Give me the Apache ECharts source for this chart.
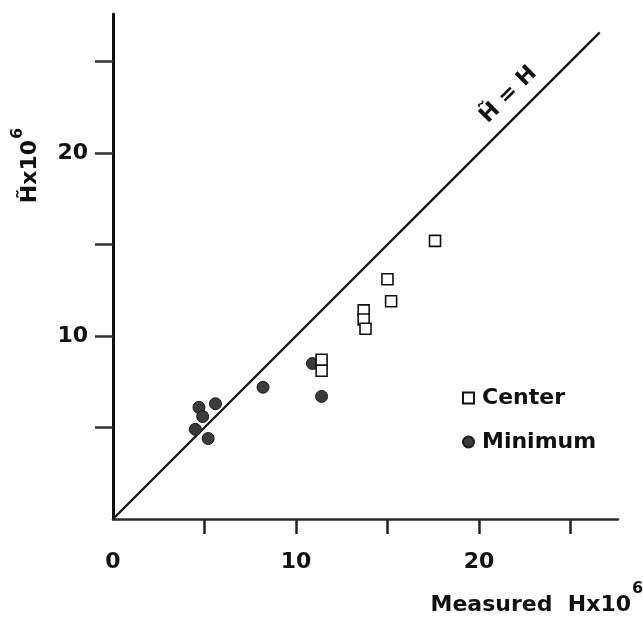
<!DOCTYPE html>
<html>
<head>
<meta charset="utf-8">
<script src="https://cdn.jsdelivr.net/npm/echarts@6/dist/echarts.min.js"></script>
<style>html,body{margin:0;padding:0;background:#fff;}#c{width:643px;height:617px;}</style>
</head>
<body>
<div id="c"></div>
<script>
// ---- data ----
const centerX = [17.6, 15.0, 15.2, 13.7, 13.7, 13.8, 11.4, 11.4];
const centerY = [15.2, 13.1, 11.9, 11.4, 10.9, 10.4, 8.7, 8.1];
const minimumX = [4.7, 4.9, 5.6, 4.5, 5.2, 8.2, 11.4, 10.9];
const minimumY = [6.1, 5.6, 6.3, 4.9, 4.4, 7.2, 6.7, 8.5];
const identityX = [0, 26.6];
const identityY = [0, 26.6];
const xTickValues = [5, 10, 15, 20, 25];
const yTickValues = [5, 10, 15, 20, 25];
const xLabelValues = [0, 10, 20];
const yLabelValues = [10, 20];
const seriesNames = ['Center', 'Minimum'];

const FONT = 'DejaVu Sans';
const zip = (a, b) => a.map((v, i) => [v, b[i]]);

const chart = echarts.init(document.getElementById('c'), null, {renderer: 'canvas'});
const labelStyle = {fontFamily: FONT, fontWeight: 'bold', fontSize: 22, color: '#111'};

const option = {
  backgroundColor: '#fff',
  animation: false,
  grid: {left: 113, top: 14, width: 505, height: 505},
  xAxis: {
    type: 'value', min: 0, max: 27.6, interval: 5,
    splitLine: {show: false},
    axisLine: {lineStyle: {color: '#2a2a2a', width: 2.5}},
    axisTick: {customValues: xTickValues, length: 15, lineStyle: {color: '#222', width: 2.5}},
    axisLabel: Object.assign({customValues: xLabelValues, margin: 32}, labelStyle)
  },
  yAxis: {
    type: 'value', min: 0, max: 27.6, interval: 5,
    splitLine: {show: false},
    axisLine: {lineStyle: {color: '#111', width: 3}},
    axisTick: {customValues: yTickValues, length: 18, lineStyle: {color: '#333', width: 2.5}},
    axisLabel: Object.assign({customValues: yLabelValues, margin: 25}, labelStyle)
  },
  legend: {
    data: seriesNames,
    orient: 'vertical', left: 457, top: 382,
    itemWidth: 11, itemHeight: 11, itemGap: 22,
    textStyle: {fontFamily: FONT, fontWeight: 'bold', fontSize: 22, color: '#111', padding: [0, 0, 0, 3]}
  },
  series: [
    {
      name: 'identity', type: 'line', data: zip(identityX, identityY),
      symbol: 'none', silent: true, z: 1,
      lineStyle: {color: '#1a1a1a', width: 2.4}
    },
    {
      name: 'Minimum', type: 'scatter', data: zip(minimumX, minimumY),
      symbol: 'circle', symbolSize: 12, z: 2,
      itemStyle: {color: '#3b3b3b', borderColor: '#1a1a1a', borderWidth: 1, opacity: 1}
    },
    {
      name: 'Center', type: 'scatter', data: zip(centerX, centerY),
      symbol: 'rect', symbolSize: 11, z: 3,
      itemStyle: {color: '#fff', borderColor: '#111', borderWidth: 1.6, opacity: 1}
    }
  ]
};
chart.setOption(option);

// annotation positions derived from the chart's own scale
const p = chart.convertToPixel({gridIndex: 0}, [22.4, 22.4]);
chart.setOption({
  graphic: [
    {
      type: 'group', x: 30, y: 164, rotation: Math.PI / 2,
      children: [
        {type: 'text', style: {text: 'H\u0303x10', x: 24, y: 0, align: 'right', verticalAlign: 'middle',
          fontFamily: FONT, fontWeight: 'bold', fontSize: 22, fill: '#111'}},
        {type: 'text', style: {text: '6', x: 25, y: -12, align: 'left', verticalAlign: 'middle',
          fontFamily: FONT, fontWeight: 'bold', fontSize: 16, fill: '#111'}}
      ]
    },
    {
      type: 'group', x: 0, y: 0,
      children: [
        {type: 'text', style: {text: 'Measured  Hx10', x: 631, y: 605, align: 'right', verticalAlign: 'middle',
          fontFamily: FONT, fontWeight: 'bold', fontSize: 22, fill: '#111'}},
        {type: 'text', style: {text: '6', x: 632, y: 589, align: 'left', verticalAlign: 'middle',
          fontFamily: FONT, fontWeight: 'bold', fontSize: 16, fill: '#111'}}
      ]
    },
    {
      type: 'text', x: p[0] - 14.3, y: p[1] - 14.3, rotation: Math.PI / 4,
      style: {text: 'H\u0303 = H', align: 'center', verticalAlign: 'middle',
        fontFamily: FONT, fontWeight: 'bold', fontSize: 22, fill: '#111'}
    }
  ]
});
</script>
</body>
</html>
